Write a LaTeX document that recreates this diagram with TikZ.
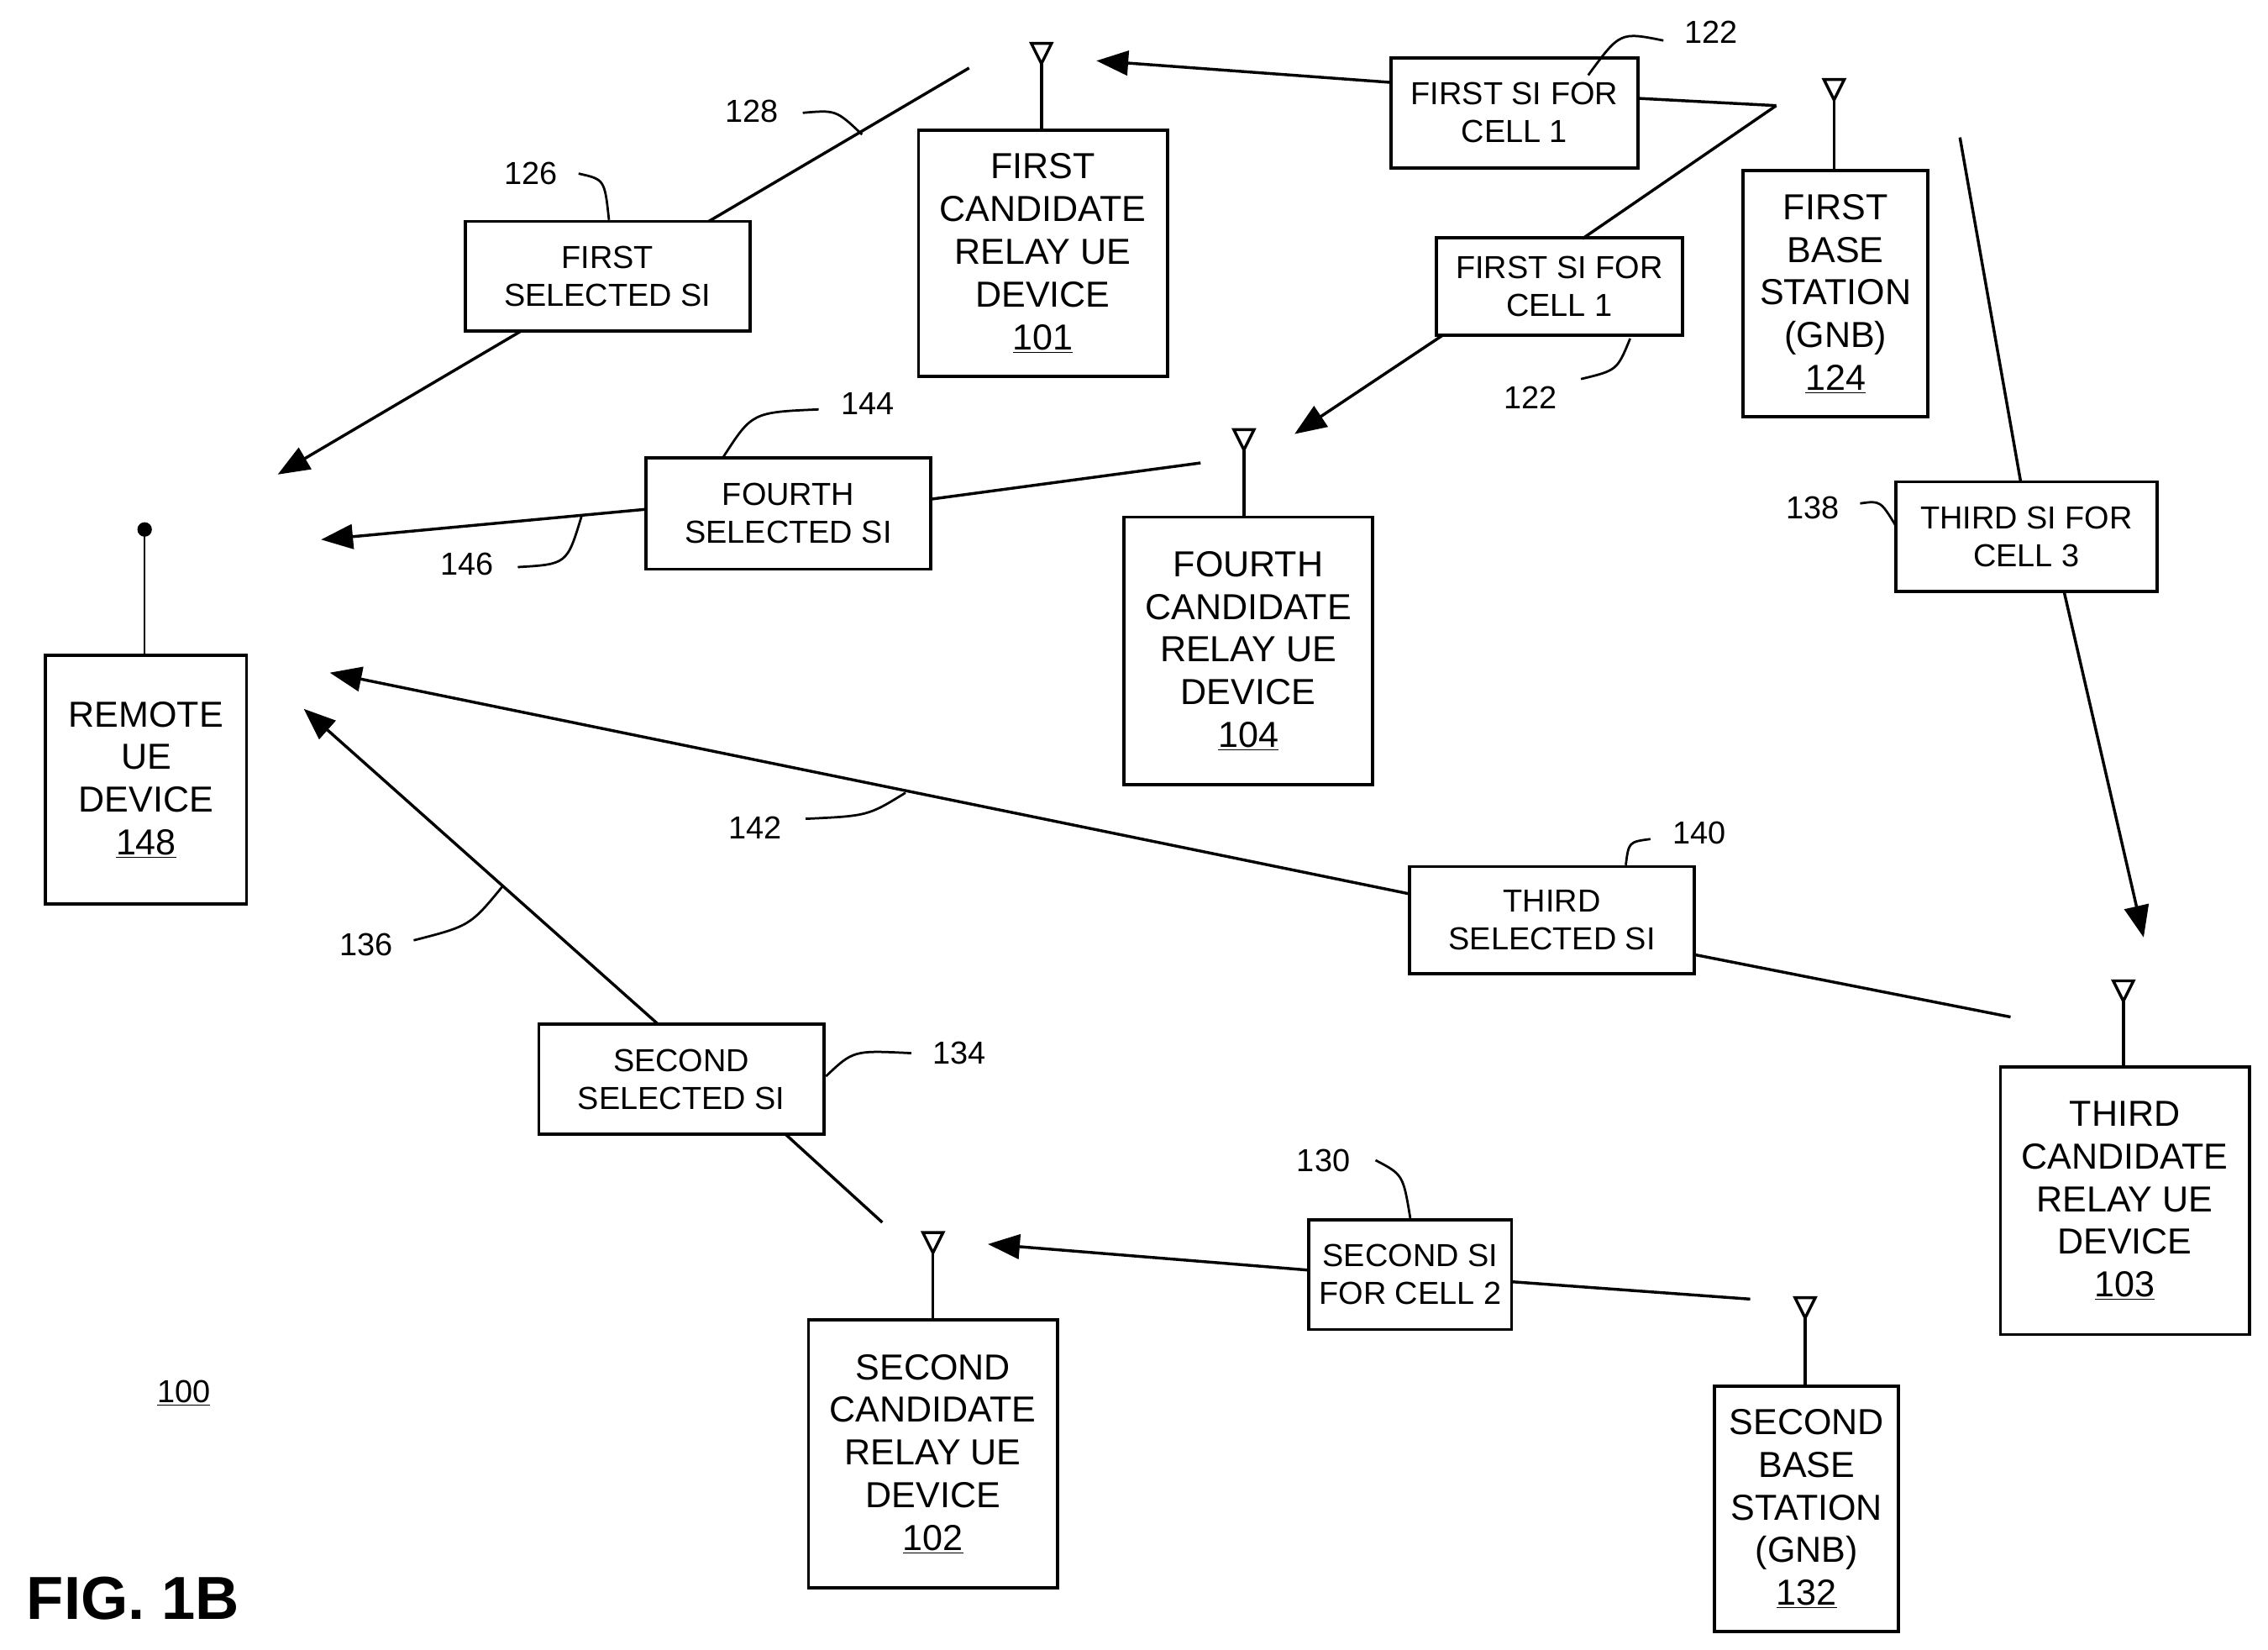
\documentclass[tikz,border=0pt]{standalone}
\usepackage{fontspec}
\setmainfont{Liberation Sans}
\usetikzlibrary{arrows.meta}

\tikzset{
    dev/.style={draw, line width=2.2pt, align=center, inner sep=0pt,
        font=\fontsize{25}{29.5}\selectfont},
    si/.style={draw, line width=2.2pt, align=center, inner sep=0pt,
        font=\fontsize{22}{26}\selectfont},
    link/.style={line width=2pt},
    sent/.style={line width=2pt, -{Triangle[length=22pt, width=17pt]}},
    ref/.style={font=\fontsize{22}{26}\selectfont},
    lead/.style={line width=1.6pt},
}
\newcommand{\aerial}[2]{% tip coordinate, name
    \draw[link] (#1) ++(-7,0) -- ++(14,0) -- ++(-7,14) -- cycle;
}

\begin{document}
\begin{tikzpicture}[x=1pt, y=-1pt]
    \useasboundingbox (0,0) rectangle (1568,1140);

    % devices
    \node[dev, minimum width=172, minimum height=170] (relay1) at (721,175) {FIRST\\CANDIDATE\\RELAY UE\\DEVICE\\\underline{101}};
    \node[dev, minimum width=128, minimum height=170] (gnb1) at (1269,203) {FIRST\\BASE\\STATION\\(GNB)\\\underline{124}};
    \node[dev, minimum width=172, minimum height=185] (relay4) at (863,450) {FOURTH\\CANDIDATE\\RELAY UE\\DEVICE\\\underline{104}};
    \node[dev, minimum width=139, minimum height=172] (remote) at (101,539) {REMOTE\\UE\\DEVICE\\\underline{148}};
    \node[dev, minimum width=172, minimum height=185] (relay3) at (1469,830) {THIRD\\CANDIDATE\\RELAY UE\\DEVICE\\\underline{103}};
    \node[dev, minimum width=172, minimum height=185] (relay2) at (645,1005) {SECOND\\CANDIDATE\\RELAY UE\\DEVICE\\\underline{102}};
    \node[dev, minimum width=127, minimum height=170] (gnb2) at (1249,1043) {SECOND\\BASE\\STATION\\(GNB)\\\underline{132}};

    % antennas
    \coordinate (ant1) at (720,30);
    \coordinate (antg1) at (1268,55);
    \coordinate (ant4) at (860,297);
    \coordinate (ant3) at (1468,678);
    \coordinate (ant2) at (645,852);
    \coordinate (antg2) at (1248,897);
    \foreach \a/\b in {ant1/relay1, antg1/gnb1, ant4/relay4, ant3/relay3, ant2/relay2, antg2/gnb2} {
        \aerial{\a}{}
        \draw[link] (\a) ++(0,14) -- (\b.north -| \a);
    }
    \coordinate (antr) at (100,366);
    \fill (antr) circle (5);
    \draw[line width=1.2pt] (antr) -- (remote.north -| antr);

    % SI boxes
    \node[si, minimum width=171, minimum height=76] (si1a) at (1047,78) {FIRST SI FOR\\CELL 1};
    \node[si, minimum width=170, minimum height=67] (si1b) at (1078,198) {FIRST SI FOR\\CELL 1};
    \node[si, minimum width=197, minimum height=76] (sel1) at (420,191) {FIRST\\SELECTED SI};
    \node[si, minimum width=197, minimum height=77] (sel4) at (545,355) {FOURTH\\SELECTED SI};
    \node[si, minimum width=181, minimum height=76] (si3) at (1401,371) {THIRD SI FOR\\CELL 3};
    \node[si, minimum width=197, minimum height=74] (sel3) at (1073,636) {THIRD\\SELECTED SI};
    \node[si, minimum width=197, minimum height=76] (sel2) at (471,746) {SECOND\\SELECTED SI};
    \node[si, minimum width=140, minimum height=76] (si2) at (975,881) {SECOND SI\\FOR CELL 2};

    % free ends
    \coordinate (g1out) at (1228,73);
    \coordinate (r1in) at (758,42);
    \coordinate (r4in) at (895,300);
    \coordinate (r1out) at (670,47);
    \coordinate (rmA) at (192,328);
    \coordinate (r4out) at (830,320);
    \coordinate (rmB) at (222,373);
    \coordinate (g1dn) at (1355,95);
    \coordinate (r3in) at (1482,648);
    \coordinate (r3out) at (1390,703);
    \coordinate (rmC) at (228,465);
    \coordinate (r2out) at (610,845);
    \coordinate (rmD) at (210,490);
    \coordinate (g2out) at (1210,898);
    \coordinate (r2in) at (683,860);

    % transmissions
    \draw[link] (g1out) -- (1133,68);
    \draw[sent] (962,57) -- (r1in);
    \draw[link] (g1out) -- (1094,165);
    \draw[sent] (997,232) -- (r4in);
    \draw[link] (r1out) -- (490,153);
    \draw[sent] (360,229) -- (rmA);
    \draw[link] (r4out) -- (644,345);
    \draw[sent] (447,352) -- (rmB);
    \draw[link] (g1dn) -- (1397,333);
    \draw[sent] (1427,409) -- (r3in);
    \draw[link] (r3out) -- (1172,660);
    \draw[sent] (975,618) -- (rmC);
    \draw[link] (r2out) -- (543,784);
    \draw[sent] (455,708) -- (rmD);
    \draw[link] (g2out) -- (1045,886);
    \draw[sent] (905,878) -- (r2in);

    % reference numerals
    \node[ref] (n122a) at (1183,22) {122};
    \draw[lead] (1150,28) .. controls (1120,22) .. (1098,52);
    \node[ref] (n122b) at (1058,275) {122};
    \draw[lead] (1093,262) .. controls (1118,256) .. (1127,234);
    \node[ref] (n128) at (520,77) {128};
    \draw[lead] (555,78) .. controls (578,76) .. (596,93);
    \node[ref] (n126) at (367,120) {126};
    \draw[lead] (400,120) .. controls (418,124) .. (421,152);
    \node[ref] (n144) at (600,279) {144};
    \draw[lead] (566,283) .. controls (520,285) .. (500,316);
    \node[ref] (n146) at (323,390) {146};
    \draw[lead] (358,392) .. controls (392,390) .. (402,357);
    \node[ref] (n138) at (1253,351) {138};
    \draw[lead] (1286,348) .. controls (1300,346) .. (1311,364);
    \node[ref] (n140) at (1175,576) {140};
    \draw[lead] (1141,580) .. controls (1126,582) .. (1124,598);
    \node[ref] (n142) at (522,572) {142};
    \draw[lead] (557,566) .. controls (600,564) .. (626,548);
    \node[ref] (n136) at (253,653) {136};
    \draw[lead] (286,650) .. controls (325,640) .. (348,612);
    \node[ref] (n134) at (663,728) {134};
    \draw[lead] (630,728) .. controls (590,726) .. (571,744);
    \node[ref] (n130) at (915,802) {130};
    \draw[lead] (951,802) .. controls (970,812) .. (975,842);
    \node[ref] (n100) at (127,963) {\underline{100}};
    \node[font=\fontsize{42}{46}\selectfont\bfseries] (fig) at (92,1105) {FIG. 1B};
\end{tikzpicture}
\end{document}
